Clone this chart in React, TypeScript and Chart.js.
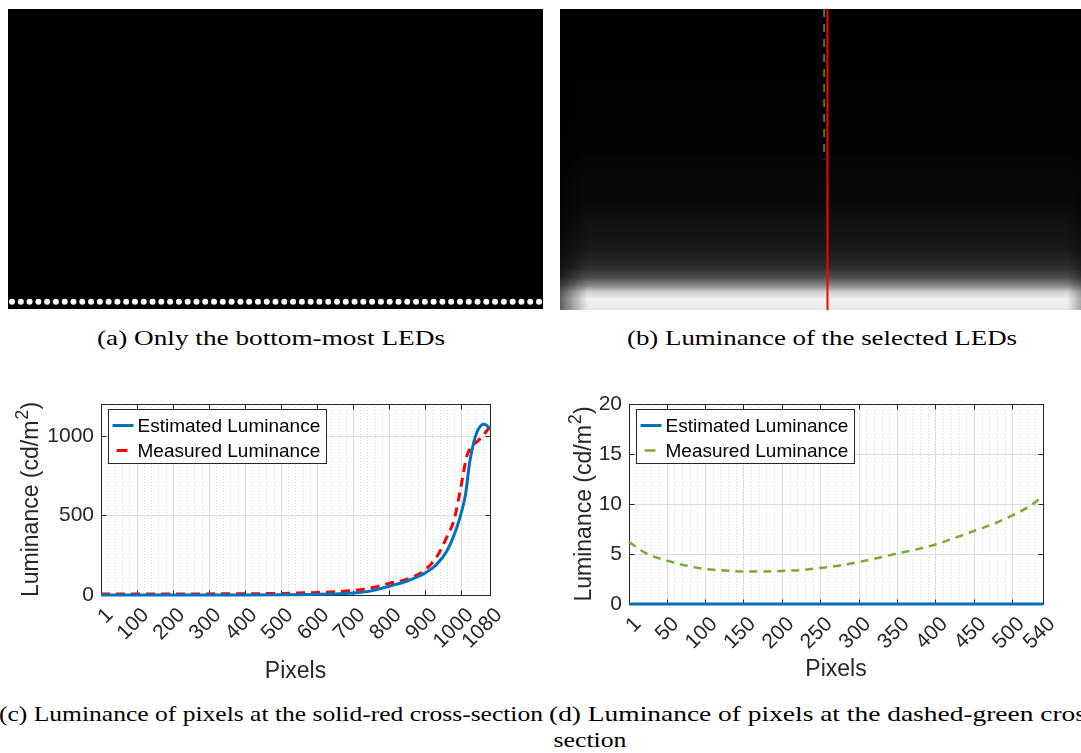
import React, { useEffect, useRef, useMemo } from 'react';
import { Chart, registerables } from 'chart.js';

Chart.register(...registerables);

const SANS = '"Liberation Sans", Arial, Helvetica, sans-serif';
const SERIF = '"Liberation Serif", "Times New Roman", serif';
const AXIS = '#262626';

// ---------- (a) LED positions along the bottom row (image pixel columns) ----------
const ledColumns = [
  0, 32, 64, 96, 128, 160, 192, 224, 256, 288, 320, 352, 384, 416, 448, 480, 512, 544, 576, 608,
  640, 672, 704, 736, 768, 800, 832, 864, 896, 928, 960, 992, 1024, 1056, 1088, 1120, 1152, 1184,
  1216, 1248, 1280, 1312, 1344, 1376, 1408, 1440, 1472, 1504, 1536, 1568, 1600, 1632, 1664, 1696,
  1728, 1760, 1792, 1824, 1856, 1888, 1920,
];
const ledRow = 1068;

// ---------- (b) cross-section markers ----------
const redColumn = 960;
const redRows = [0, 1080];
const greenColumn = 948;
const greenRows = [0, 540];

// ---------- (c) solid-red cross-section ----------
const pixelsEstC = [1, 100, 200, 300, 400, 500, 550, 600, 650, 700, 750, 800, 850, 900, 930, 960, 985, 1000, 1012, 1023, 1035, 1045, 1055, 1062, 1070, 1080];
const estimatedC = [0, 0, 0, 0, 0, 1, 2, 4, 7, 12, 26, 55, 88, 138, 188, 275, 405, 515, 630, 825, 960, 1030, 1065, 1073, 1066, 1042];
const pixelsMeasC = [1, 100, 200, 300, 400, 500, 600, 650, 700, 750, 800, 850, 900, 935, 958, 981, 1000, 1016, 1032, 1045, 1060, 1080];
const measuredC = [6, 6, 6, 7, 8, 10, 16, 20, 28, 45, 73, 100, 158, 250, 354, 479, 688, 875, 938, 965, 1000, 1058];
const xTicksC = [1, 100, 200, 300, 400, 500, 600, 700, 800, 900, 1000, 1080];
const yTicksC = [0, 500, 1000];

// ---------- (d) dashed-green cross-section ----------
const pixelsD = [1, 25, 50, 75, 100, 125, 150, 175, 200, 225, 250, 275, 300, 325, 350, 375, 400, 425, 450, 475, 500, 525, 540];
const measuredD = [6.2, 5.0, 4.35, 3.85, 3.5, 3.35, 3.25, 3.25, 3.3, 3.4, 3.6, 3.85, 4.2, 4.6, 5.05, 5.45, 5.95, 6.6, 7.3, 8.0, 8.85, 9.9, 10.8];
const estimatedD = [0, 0, 0, 0, 0, 0, 0, 0, 0, 0, 0, 0, 0, 0, 0, 0, 0, 0, 0, 0, 0, 0, 0];
const xTicksD = [1, 50, 100, 150, 200, 250, 300, 350, 400, 450, 500, 540];
const yTicksD = [0, 5, 10, 15, 20];

const seriesLabels = ['Estimated Luminance', 'Measured Luminance'];
const xTitle = 'Pixels';
const yTitleMain = 'Luminance (cd/m';
const yTitleSup = '2';
const yTitleEnd = ')';

function zip(xs: number[], ys: number[]) {
  return xs.map((x, i) => ({ x, y: ys[i] }));
}

function useChart(ref: React.RefObject<HTMLCanvasElement>, make: () => any) {
  useEffect(() => {
    const c = new Chart(ref.current as HTMLCanvasElement, make());
    return () => c.destroy();
  }, []);
}

function Panel({ left, top, width, height, make }: any) {
  const ref = useRef<HTMLCanvasElement>(null);
  useChart(ref, make);
  return (
    <div style={{ position: 'absolute', left, top, width, height }}>
      <canvas ref={ref} width={width} height={height} style={{ width, height, display: 'block' }} />
    </div>
  );
}

const hiddenScales = {
  x: { type: 'linear', display: false, min: 0, max: 1920 },
  y: { type: 'linear', display: false, min: 0, max: 1080, reverse: true },
};

const baseOpts = {
  animation: false,
  responsive: false,
  maintainAspectRatio: false,
  events: [],
  plugins: { legend: { display: false }, tooltip: { enabled: false } },
};

function makePanelA() {
  return {
    type: 'scatter',
    data: {
      datasets: [
        {
          data: ledColumns.map((x) => ({ x, y: ledRow })),
          pointRadius: 3,
          pointBackgroundColor: '#ffffff',
          pointBorderWidth: 0,
          clip: false,
        },
      ],
    },
    options: { ...baseOpts, layout: { padding: 0 }, scales: hiddenScales },
    plugins: [
      {
        id: 'bgA',
        beforeDatasetsDraw(chart: any) {
          const { ctx, width, height } = chart;
          ctx.save();
          ctx.fillStyle = '#000';
          ctx.fillRect(0, 0, width, height);
          ctx.restore();
        },
      },
    ],
  };
}

const glowStops: [number, string][] = [
  [0, '#000000'],
  [0.47, '#030303'],
  [0.637, '#0a0a0a'],
  [0.747, '#141414'],
  [0.803, '#1b1b1b'],
  [0.86, '#2e2e2e'],
  [0.893, '#4f4f4f'],
  [0.92, '#8c8c8c'],
  [0.94, '#cfcfcf'],
  [0.963, '#f2f2f2'],
  [1, '#eaeaea'],
];

function makePanelB() {
  return {
    type: 'line',
    data: {
      datasets: [
        {
          data: greenRows.map((y) => ({ x: greenColumn, y })),
          borderColor: '#4a7d1a',
          borderWidth: 2,
          borderDash: [8, 7],
          pointRadius: 0,
        },
        {
          data: redRows.map((y) => ({ x: redColumn, y })),
          borderColor: '#ff0000',
          borderWidth: 2,
          pointRadius: 0,
        },
      ],
    },
    options: { ...baseOpts, layout: { padding: 0 }, scales: hiddenScales },
    plugins: [
      {
        id: 'bgB',
        beforeDatasetsDraw(chart: any) {
          const { ctx, width, height } = chart;
          ctx.save();
          const g = ctx.createLinearGradient(0, 0, 0, height);
          glowStops.forEach(([o, c]) => g.addColorStop(o, c));
          ctx.fillStyle = g;
          ctx.fillRect(0, 0, width, height);
          const l = ctx.createLinearGradient(0, 0, 28, 0);
          l.addColorStop(0, 'rgba(0,0,0,0.6)');
          l.addColorStop(1, 'rgba(0,0,0,0)');
          ctx.fillStyle = l;
          ctx.fillRect(0, 0, 28, height);
          const r = ctx.createLinearGradient(width - 28, 0, width, 0);
          r.addColorStop(0, 'rgba(0,0,0,0)');
          r.addColorStop(1, 'rgba(0,0,0,0.6)');
          ctx.fillStyle = r;
          ctx.fillRect(width - 28, 0, 28, height);
          ctx.restore();
        },
      },
    ],
  };
}

function zeroPadding(s: any) {
  s.paddingTop = 0;
  s.paddingBottom = 0;
  s.paddingLeft = 0;
  s.paddingRight = 0;
}

function makePlot(p: any) {
  const { width, height, area, xMin, xMax, xTicks, yMin, yMax, yTicks, series, minorStep, yTitleX, xTitleY } = p;
  const titleHalf = (23 * 1.2) / 2;
  const framePlugin = {
    id: 'frame',
    beforeDatasetsDraw(chart: any) {
      const { ctx, chartArea: a, scales } = chart;
      const x = scales.x;
      const y = scales.y;
      ctx.save();
      ctx.lineWidth = 1;
      ctx.strokeStyle = '#d6d6d6';
      ctx.setLineDash([1, 2]);
      for (let v = Math.ceil(xMin / minorStep) * minorStep; v < xMax; v += minorStep) {
        if (xTicks.includes(v) || v <= xMin) continue;
        const px = Math.round(x.getPixelForValue(v)) + 0.5;
        ctx.beginPath();
        ctx.moveTo(px, a.top);
        ctx.lineTo(px, a.bottom);
        ctx.stroke();
      }
      ctx.setLineDash([]);
      ctx.strokeStyle = '#dcdcdc';
      xTicks.forEach((v: number) => {
        const px = Math.round(x.getPixelForValue(v)) + 0.5;
        ctx.beginPath();
        ctx.moveTo(px, a.top);
        ctx.lineTo(px, a.bottom);
        ctx.stroke();
      });
      yTicks.forEach((v: number) => {
        const py = Math.round(y.getPixelForValue(v)) + 0.5;
        ctx.beginPath();
        ctx.moveTo(a.left, py);
        ctx.lineTo(a.right, py);
        ctx.stroke();
      });
      // axes box with inward ticks
      ctx.strokeStyle = AXIS;
      ctx.lineWidth = 1;
      const L = Math.round(a.left) + 0.5;
      const R = Math.round(a.right) + 0.5;
      const T = Math.round(a.top) + 0.5;
      const B = Math.round(a.bottom) + 0.5;
      ctx.strokeRect(L, T, R - L, B - T);
      ctx.beginPath();
      xTicks.forEach((v: number) => {
        const px = Math.round(x.getPixelForValue(v)) + 0.5;
        ctx.moveTo(px, B);
        ctx.lineTo(px, B - 5);
        ctx.moveTo(px, T);
        ctx.lineTo(px, T + 5);
      });
      yTicks.forEach((v: number) => {
        const py = Math.round(y.getPixelForValue(v)) + 0.5;
        ctx.moveTo(L, py);
        ctx.lineTo(L + 5, py);
        ctx.moveTo(R, py);
        ctx.lineTo(R - 5, py);
      });
      ctx.stroke();
      ctx.restore();
    },
    afterDraw(chart: any) {
      const { ctx, chartArea: a } = chart;
      ctx.save();
      // y-axis title with a real superscript
      const mainFont = `23px ${SANS}`;
      const supFont = `18px ${SANS}`;
      ctx.font = mainFont;
      const w1 = ctx.measureText(yTitleMain).width;
      const w3 = ctx.measureText(yTitleEnd).width;
      ctx.font = supFont;
      const w2 = ctx.measureText(yTitleSup).width + 1;
      const total = w1 + w2 + w3;
      ctx.translate(yTitleX, (a.top + a.bottom) / 2);
      ctx.rotate(-Math.PI / 2);
      ctx.fillStyle = AXIS;
      ctx.textBaseline = 'middle';
      ctx.textAlign = 'left';
      let sx = -total / 2;
      ctx.font = mainFont;
      ctx.fillText(yTitleMain, sx, 1);
      sx += w1;
      ctx.font = supFont;
      ctx.fillText(yTitleSup, sx + 1, -8);
      sx += w2;
      ctx.font = mainFont;
      ctx.fillText(yTitleEnd, sx, 1);
      ctx.restore();

      // legend
      ctx.save();
      ctx.font = `19px ${SANS}`;
      const tw = Math.max(...series.map((s: any) => ctx.measureText(s.label).width));
      const bx = Math.round(a.left) + 7.5;
      const by = Math.round(a.top) + 5.5;
      const bw = Math.round(29 + tw + 6);
      const bh = 54;
      ctx.fillStyle = '#ffffff';
      ctx.fillRect(bx, by, bw, bh);
      ctx.strokeStyle = AXIS;
      ctx.lineWidth = 1;
      ctx.strokeRect(bx, by, bw, bh);
      series.forEach((s: any, i: number) => {
        const cy = by + 16 + i * 25;
        ctx.strokeStyle = s.color;
        ctx.lineWidth = s.width;
        ctx.beginPath();
        if (s.dash) {
          ctx.moveTo(bx + 8, cy);
          ctx.lineTo(bx + 19, cy);
        } else {
          ctx.moveTo(bx + 4, cy);
          ctx.lineTo(bx + 25, cy);
        }
        ctx.stroke();
        ctx.fillStyle = '#000000';
        ctx.textBaseline = 'middle';
        ctx.textAlign = 'left';
        ctx.fillText(s.label, bx + 29, cy + 1);
      });
      ctx.restore();
    },
  };
  return {
    type: 'line',
    data: {
      datasets: series.map((s: any) => ({
        label: s.label,
        data: zip(s.xs, s.ys),
        borderColor: s.color,
        borderWidth: s.width,
        borderDash: s.dash || [],
        pointRadius: 0,
        cubicInterpolationMode: 'monotone',
        fill: false,
        clip: false,
      })),
    },
    options: {
      ...baseOpts,
      layout: { padding: { left: 0, top: area.top, right: width - area.right, bottom: 0 } },
      scales: {
        x: {
          type: 'linear',
          min: xMin,
          max: xMax,
          afterBuildTicks: (s: any) => {
            s.ticks = xTicks.map((v: number) => ({ value: v }));
          },
          afterFit: (s: any) => {
            s.height = height - area.bottom;
            zeroPadding(s);
          },
          grid: { display: false, drawTicks: false },
          border: { display: false },
          ticks: {
            autoSkip: false,
            minRotation: 45,
            maxRotation: 45,
            padding: 8,
            labelOffset: 9,
            color: AXIS,
            font: { family: SANS, size: 21 },
            callback: (v: any) => String(v),
          },
          title: {
            display: true,
            text: xTitle,
            color: AXIS,
            font: { family: SANS, size: 23 },
            padding: { top: 0, bottom: height - xTitleY - titleHalf },
          },
        },
        y: {
          type: 'linear',
          min: yMin,
          max: yMax,
          afterBuildTicks: (s: any) => {
            s.ticks = yTicks.map((v: number) => ({ value: v }));
          },
          afterFit: (s: any) => {
            s.width = area.left;
            zeroPadding(s);
          },
          grid: { display: false, drawTicks: false },
          border: { display: false },
          ticks: {
            padding: 7,
            color: AXIS,
            font: { family: SANS, size: 21 },
            callback: (v: any) => String(v),
          },
          title: { display: false },
        },
      },
    },
    plugins: [framePlugin],
  };
}

const makeC = () =>
  makePlot({
    width: 545,
    height: 300,
    area: { left: 101, top: 14, right: 490, bottom: 205 },
    xMin: 1,
    xMax: 1080,
    xTicks: xTicksC,
    yMin: 0,
    yMax: 1200,
    yTicks: yTicksC,
    minorStep: 20,
    yTitleX: 31,
    xTitleY: 282,
    series: [
      { label: seriesLabels[0], xs: pixelsEstC, ys: estimatedC, color: '#0072BD', width: 3 },
      { label: seriesLabels[1], xs: pixelsMeasC, ys: measuredC, color: '#FF0000', width: 3, dash: [9, 6] },
    ],
  });

const makeD = () =>
  makePlot({
    width: 536,
    height: 300,
    area: { left: 84, top: 14, right: 498, bottom: 214 },
    xMin: 1,
    xMax: 540,
    xTicks: xTicksD,
    yMin: 0,
    yMax: 20,
    yTicks: yTicksD,
    minorStep: 10,
    yTitleX: 39,
    xTitleY: 280,
    series: [
      { label: seriesLabels[0], xs: pixelsD, ys: estimatedD, color: '#0072BD', width: 3 },
      { label: seriesLabels[1], xs: pixelsD, ys: measuredD, color: '#77AC30', width: 2.5, dash: [8, 6] },
    ],
  });

const captionA = '(a) Only the bottom-most LEDs';
const captionB = '(b) Luminance of the selected LEDs';
const captionC = '(c) Luminance of pixels at the solid-red cross-section';
const captionD1 = '(d) Luminance of pixels at the dashed-green cross-';
const captionD2 = 'section';

const CAPTION_FONT = `21px ${SERIF}`;

function measure(text: string) {
  const c = document.createElement('canvas').getContext('2d') as CanvasRenderingContext2D;
  c.font = CAPTION_FONT;
  return c.measureText(text).width;
}

function Caption({ text, left, center, cy, fitText, fitWidth }: any) {
  const isCenter = center !== undefined;
  const sx = useMemo(() => fitWidth / measure(fitText || text), [text, fitText, fitWidth]);
  return (
    <div
      style={{
        position: 'absolute',
        left: isCenter ? center : left,
        top: cy,
        whiteSpace: 'nowrap',
        font: CAPTION_FONT,
        lineHeight: 1,
        color: '#000',
        transformOrigin: isCenter ? 'center center' : 'left center',
        transform: `translate(${isCenter ? '-50%' : '0'}, -50%) scaleX(${sx})`,
      }}
    >
      {text}
    </div>
  );
}

export default function App() {
  return (
    <div
      style={{
        position: 'absolute',
        left: 0,
        top: 0,
        width: 1081,
        height: 753,
        overflow: 'hidden',
        background: '#ffffff',
      }}
    >
      <Panel left={8} top={9} width={535} height={300} make={makePanelA} />
      <Panel left={560} top={9} width={535} height={301} make={makePanelB} />
      <Caption text={captionA} center={271} cy={338} fitWidth={348} />
      <Caption text={captionB} center={822} cy={338} fitWidth={390} />
      <Panel left={0} top={390} width={545} height={300} make={makeC} />
      <Panel left={545} top={390} width={536} height={300} make={makeD} />
      <Caption text={captionC} left={-1} cy={714} fitWidth={544} />
      <Caption text={captionD1} left={549} cy={714} fitText="(d) Luminance of pixels at the dashed-green cros" fitWidth={537} />
      <Caption text={captionD2} center={590} cy={740} fitWidth={73} />
    </div>
  );
}
